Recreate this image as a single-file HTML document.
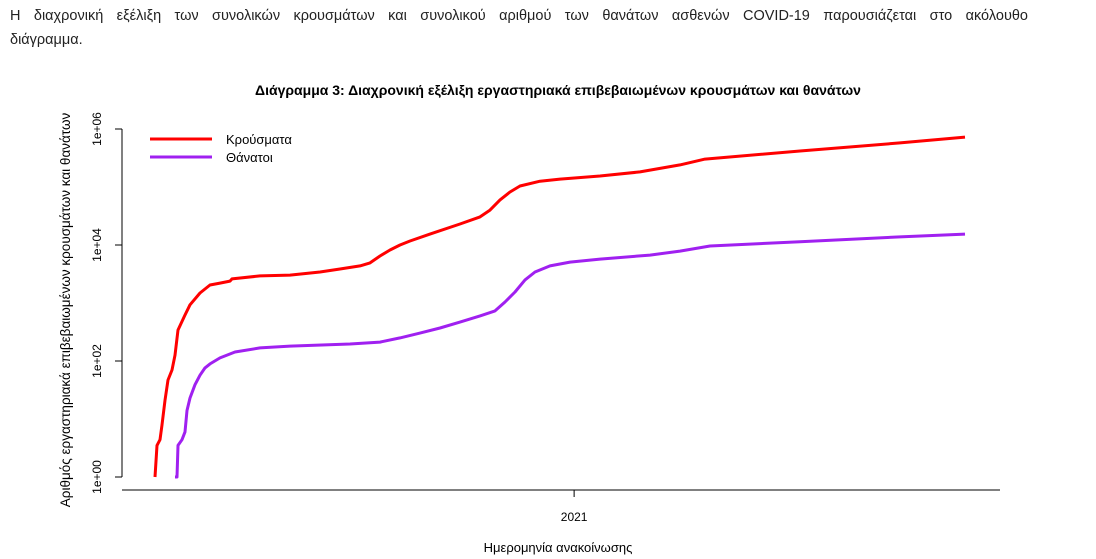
<!DOCTYPE html>
<html><head><meta charset="utf-8"><style>
body{margin:0;width:1096px;height:559px;background:#fff;overflow:hidden;font-family:"Liberation Sans","DejaVu Sans",sans-serif}
#intro{position:absolute;left:10px;top:4px;width:1018px;font-size:14.5px;line-height:24px;color:#222}
#intro .l1{text-align:justify;text-align-last:justify;white-space:nowrap;display:block;word-spacing:5.5px}
svg{position:absolute;left:0;top:0}
</style></head><body>
<div id="intro"><span class="l1">Η διαχρονική εξέλιξη των συνολικών κρουσμάτων και συνολικού αριθμού των θανάτων ασθενών COVID-19 παρουσιάζεται στο ακόλουθο</span>διάγραμμα.</div>
<svg width="1096" height="559">
<text x="558" y="95" text-anchor="middle" font-size="14" font-weight="bold">Διάγραμμα 3: Διαχρονική εξέλιξη εργαστηριακά επιβεβαιωμένων κρουσμάτων και θανάτων</text>
<text transform="translate(70,310) rotate(-90)" text-anchor="middle" font-size="13.5">Αριθμός εργαστηριακά επιβεβαιωμένων κρουσμάτων και θανάτων</text>
<text x="558" y="552" text-anchor="middle" font-size="13">Ημερομηνία ανακοίνωσης</text>
<g id="axes"></g><g id="series"></g>
<line x1="150" y1="139" x2="212" y2="139" stroke="#f00" stroke-width="3"/>
<text x="226" y="144" font-size="13">Κρούσματα</text>
<line x1="150" y1="157" x2="212" y2="157" stroke="#a020f0" stroke-width="3"/>
<text x="226" y="162" font-size="13">Θάνατοι</text>
</svg>
<script>
const casesX=[155,157,160,162,165,168,172,175,178,185,190,200,210,220,230,232,260,290,320,340,360,370,380,390,400,410,430,460,480,490,500,510,520,540,560,600,640,680,705,800,900,965];
const casesV=[1,3.5,4.4,7.9,21,47,70,126,342,620,930,1490,2040,2200,2390,2600,2930,3030,3420,3860,4360,4920,6460,8200,10000,11700,15400,23000,30500,40000,60000,82000,104000,126000,137000,155000,182000,240000,303000,418000,575000,725000];
const deathsX=[175,177,178,182,185,187,190,195,200,205,210,220,235,260,290,350,380,400,420,440,460,480,495,505,515,525,535,550,570,600,650,680,710,800,900,965];
const deathsV=[1,1,3.5,4.4,6,14,23,39,57,76,89,113,143,168,181,196,212,250,303,371,468,599,732,1040,1550,2500,3420,4360,5080,5720,6700,7860,9600,11400,13800,15400];
const yTicks=[1,100,10000,1000000];
const yTickLabels=["1e+00","1e+02","1e+04","1e+06"];
const xTickDays=[310];const xTickLabels=["2021"];
const pxPerDay=1.352, x0=155;
const sx=d=>x0+d*pxPerDay;
const dayOf=p=>(p-x0)/pxPerDay;
const sy=v=>477-58*Math.log10(v);
const NS="http://www.w3.org/2000/svg";
const ax=document.getElementById('axes'),se=document.getElementById('series');
function mk(t,a,p){const e=document.createElementNS(NS,t);for(const k in a)e.setAttribute(k,a[k]);p.appendChild(e);return e;}
const yl=mk('line',{x1:122,y1:sy(1e6),x2:122,y2:sy(1),stroke:'#000'},ax);


yTicks.forEach((v,i)=>{const y=sy(v);
 mk('line',{x1:115,y1:y,x2:122,y2:y,stroke:'#000'},ax);
 const t=mk('text',{transform:`translate(101,${y}) rotate(-90)`,'text-anchor':'middle','font-size':12},ax);t.textContent=yTickLabels[i];
 
 });
const xl=mk('line',{x1:122,y1:490,x2:1000,y2:490,stroke:'#000'},ax);


xTickDays.forEach((d,i)=>{const x=sx(d);
 mk('line',{x1:x,y1:490,x2:x,y2:497,stroke:'#000'},ax);
 const t=mk('text',{x:x,y:521,'text-anchor':'middle','font-size':12},ax);t.textContent=xTickLabels[i];
 
 });
function line(X,V,c,n){const d=X.map((p,i)=>(i?'L':'M')+sx(dayOf(p)).toFixed(1)+','+sy(V[i]).toFixed(1)).join('');
 const e=mk('path',{d:d,fill:'none',stroke:c,'stroke-width':3,'stroke-linejoin':'round'},se);
 
 }
line(casesX,casesV,'#f00','cases-line');
line(deathsX,deathsV,'#a020f0','deaths-line');
</script>
</body></html>
